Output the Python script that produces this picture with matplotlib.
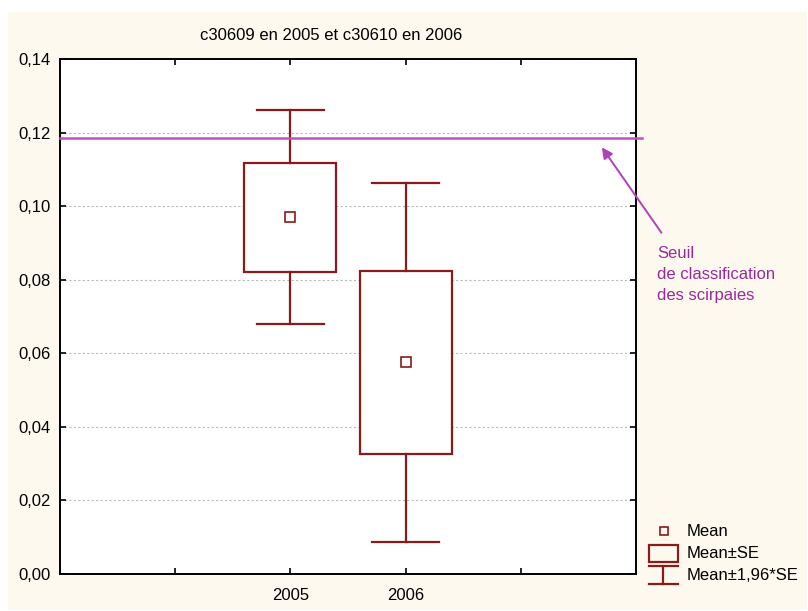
import numpy as np
import matplotlib.pyplot as plt
from matplotlib.patches import Rectangle

plt.rcParams['font.family'] = ['Liberation Sans', 'DejaVu Sans']
plt.rcParams['font.size'] = 12

# summary stats per year
years = ['2005', '2006']
means = [0.0970, 0.0576]
se = [0.0148, 0.0249]
seuil = 0.1185

dark_red = '#8b1a1a'
violet = '#c050c0'
W, H = 808, 611

fig = plt.figure(figsize=(W / 100, H / 100), dpi=100, facecolor='white')
# cream panel behind everything
fig.patches.append(Rectangle((8 / W, 1 - 610 / H), 799 / W, 598 / H,
                             transform=fig.transFigure, facecolor='#fdf9ef',
                             edgecolor='none', zorder=-10))

ax = fig.add_axes([60 / W, 1 - 574 / H, 576 / W, 515 / H])
ax.set_facecolor('white')
ax.set_xlim(0, 5)
ax.set_ylim(0, 0.14)

pos = [2, 3]
for p, m, s in zip(pos, means, se):
    lo, hi = m - 1.96 * s, m + 1.96 * s
    ax.add_patch(Rectangle((p - 0.4, m - s), 0.8, 2 * s, facecolor='white',
                           edgecolor=dark_red, lw=1.6, zorder=3))
    ax.plot([p, p], [m + s, hi], color=dark_red, lw=1.6, zorder=3)
    ax.plot([p, p], [lo, m - s], color=dark_red, lw=1.6, zorder=3)
    ax.plot([p - 0.29, p + 0.29], [hi, hi], color=dark_red, lw=1.6, zorder=3)
    ax.plot([p - 0.29, p + 0.29], [lo, lo], color=dark_red, lw=1.6, zorder=3)
    ax.plot(p, m, marker='s', ms=7, mfc='white', mec=dark_red, mew=1.2, zorder=4)

ax.plot([0, 5.05], [seuil, seuil], color=violet, lw=1.8, clip_on=False, zorder=5)

ax.set_xticks([1, 2, 3, 4])
ax.set_xticklabels(['', years[0], years[1], ''])
ax.set_yticks(np.arange(0, 0.141, 0.02))
ax.set_yticklabels([('%.2f' % v).replace('.', ',') for v in np.arange(0, 0.141, 0.02)])
ax.tick_params(direction='in', length=4, width=1.2, top=True, right=True, pad=7)
ax.tick_params(axis='x', pad=10)
ax.yaxis.grid(True, color='#bbbbbb', ls=(0, (2, 2)), lw=0.8)
for sp in ax.spines.values():
    sp.set_linewidth(1.4)

fig.text(331 / W, 1 - 35 / H, 'c30609 en 2005 et c30610 en 2006',
         ha='center', va='center')

# threshold annotation
ax.annotate('', xy=(4.69, 0.1166), xycoords='data',
            xytext=(663 / W, 1 - 235 / H), textcoords='figure fraction',
            arrowprops=dict(arrowstyle='-|>', color='#b040c0', lw=1.4,
                            mutation_scale=16), annotation_clip=False)
fig.text(657 / W, 1 - 246 / H, 'Seuil\nde classification\ndes scirpaies',
         ha='left', va='top', color='#9a2a9a', linespacing=1.5)

# legend drawn by hand
lx = fig.add_axes([0, 0, 1, 1], facecolor='none')
lx.set_xlim(0, W)
lx.set_ylim(H, 0)
lx.axis('off')
lx.add_patch(Rectangle((660, 527), 8, 8, facecolor='none', edgecolor=dark_red, lw=1.2))
lx.add_patch(Rectangle((649, 545), 29, 17, facecolor='none', edgecolor=dark_red, lw=1.6))
lx.plot([649, 678], [566, 566], color=dark_red, lw=1.6)
lx.plot([663, 663], [566, 584], color=dark_red, lw=1.6)
lx.plot([649, 678], [584, 584], color=dark_red, lw=1.6)
lx.text(687, 531, 'Mean', va='center')
lx.text(687, 553, 'Mean±SE', va='center')
lx.text(687, 576, 'Mean±1,96*SE', va='center')

fig.savefig('out.png', dpi=100, facecolor='white')
